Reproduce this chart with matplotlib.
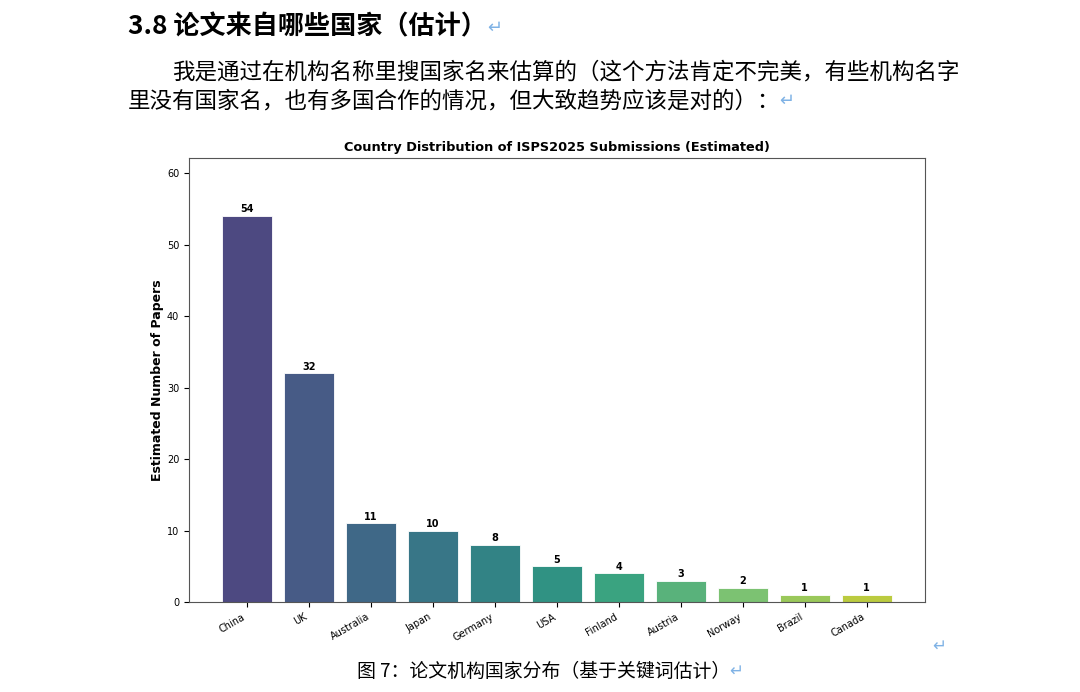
import colorsys

import matplotlib
matplotlib.use("Agg")
import matplotlib.pyplot as plt
import numpy as np

# data
countries = ["China", "UK", "Australia", "Japan", "Germany", "USA",
             "Finland", "Austria", "Norway", "Brazil", "Canada"]
paper_counts = [54, 32, 11, 10, 8, 5, 4, 3, 2, 1, 1]

heading = "3.8 论文来自哪些国家（估计）"
para_line1 = "我是通过在机构名称里搜国家名来估算的（这个方法肯定不完美，有些机构名字"
para_line2 = "里没有国家名，也有多国合作的情况，但大致趋势应该是对的）："
caption = "图 7：论文机构国家分布（基于关键词估计）"
chart_title = "Country Distribution of ISPS2025 Submissions (Estimated)"
y_label = "Estimated Number of Papers"

CJK = ["Noto Sans CJK SC", "DejaVu Sans"]
MARK_COLOR = "#7fb2e5"


def soften(rgba, prop=0.75):
    # less saturated, like the seaborn bars in the screenshot
    h, l, s = colorsys.rgb_to_hls(*rgba[:3])
    return colorsys.hls_to_rgb(h, min(l * 1.04, 1.0), s * prop)


bar_colors = [soften(c) for c in plt.cm.viridis(np.linspace(0.18, 0.92, len(countries)))]

fig = plt.figure(figsize=(10.80, 6.92), dpi=100)

# document text around the chart
fig.text(128 / 1080, 1 - 27 / 692, heading, family=CJK, fontsize=18.8,
         fontweight="bold", va="center", ha="left")
fig.text(487 / 1080, 1 - 28 / 692, "↵", family=["DejaVu Sans"], fontsize=13,
         color=MARK_COLOR, va="center", ha="left")
fig.text(172 / 1080, 1 - 72 / 692, para_line1, family=CJK, fontsize=16.2,
         va="center", ha="left")
fig.text(128 / 1080, 1 - 101 / 692, para_line2, family=CJK, fontsize=16.2,
         va="center", ha="left")
fig.text(779 / 1080, 1 - 101 / 692, "↵", family=["DejaVu Sans"], fontsize=13,
         color=MARK_COLOR, va="center", ha="left")
fig.text(544 / 1080, 1 - 671 / 692, caption, family=CJK, fontsize=13.6,
         va="center", ha="center")
fig.text(729 / 1080, 1 - 671 / 692, "↵", family=["DejaVu Sans"], fontsize=12,
         color=MARK_COLOR, va="center", ha="left")
fig.text(932 / 1080, 1 - 646 / 692, "↵", family=["DejaVu Sans"], fontsize=12,
         color=MARK_COLOR, va="center", ha="left")

# the chart itself
ax = fig.add_axes([189 / 1080, 1 - 602 / 692, (925 - 189) / 1080, (602 - 158) / 692])
x = np.arange(len(countries))
bars = ax.bar(x, paper_counts, width=0.8, color=bar_colors,
              edgecolor="white", linewidth=0.6)
for rect, v in zip(bars, paper_counts):
    ax.text(rect.get_x() + rect.get_width() / 2, v + 0.2, str(v),
            ha="center", va="bottom", fontsize=7, fontweight="bold")
ax.set_xticks(x)
ax.set_xticklabels(countries, rotation=30, ha="right")
ax.set_ylim(0, max(paper_counts) * 1.15)
ax.set_xlim(-0.94, len(countries) - 0.06)
ax.set_title(chart_title, fontsize=9.3, fontweight="bold", pad=5)
ax.set_ylabel(y_label, fontsize=9, fontweight="bold", labelpad=2)
ax.tick_params(axis="both", labelsize=7)
for spine in ax.spines.values():
    spine.set_color("#555555")

fig.savefig("out.png", dpi=100)
